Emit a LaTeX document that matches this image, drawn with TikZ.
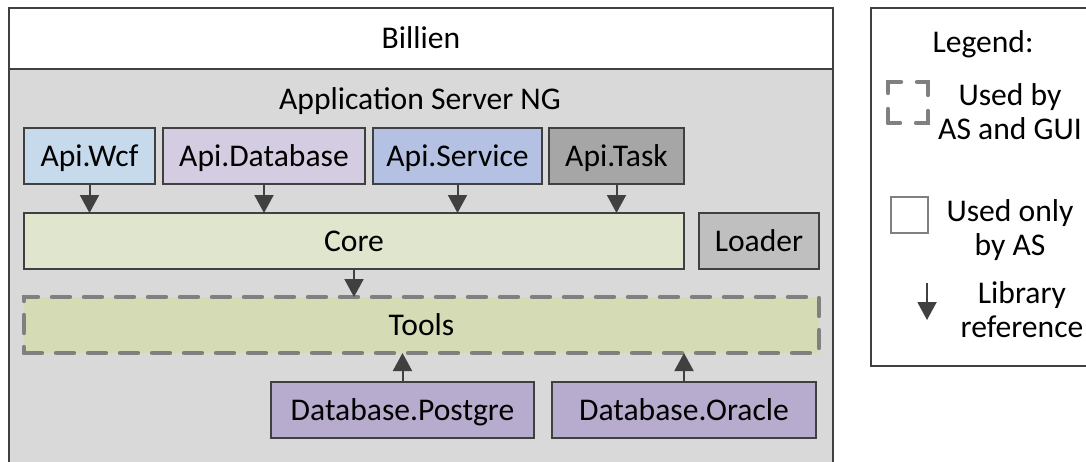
\documentclass[tikz,border=0pt]{standalone}
\usepackage{fontspec}
\setmainfont{Carlito}
\usetikzlibrary{arrows.meta}

\definecolor{lineDark}{RGB}{64,64,64}
\definecolor{dashGray}{RGB}{128,128,128}
\definecolor{bodyGray}{RGB}{217,217,217}
\definecolor{wcfBlue}{RGB}{198,218,236}
\definecolor{dbLilac}{RGB}{212,204,224}
\definecolor{svcBlue}{RGB}{181,193,226}
\definecolor{taskGray}{RGB}{166,166,166}
\definecolor{coreGreen}{RGB}{224,229,206}
\definecolor{loaderGray}{RGB}{191,191,191}
\definecolor{toolsGreen}{RGB}{213,219,181}
\definecolor{dbPurple}{RGB}{183,172,205}

\tikzset{
  lib/.style={draw=lineDark, line width=1pt, inner sep=0pt, outer sep=0pt,
    minimum height=28pt, text height=10.2pt, text depth=0pt},
  shared/.style={lib, draw=dashGray, line width=2.2pt, line cap=round,
    dash pattern=on 9pt off 7pt},
  ref/.style={-{Triangle[length=9pt,width=9.5pt]}, draw=lineDark, line width=1pt},
  caption/.style={inner sep=0pt, text height=10.2pt, text depth=0pt},
  legtext/.style={inner sep=0pt, align=center}
}

\begin{document}
\begin{tikzpicture}[x=0.5pt,y=-0.5pt,font=\fontsize{15.8}{17}\selectfont]

\clip (0,0) rectangle (1086,461);

% outer container
\fill[bodyGray] (9,69) rectangle (833,480);
\draw[lineDark, line width=1pt] (9,480) -- (9,8) -- (833,8) -- (833,480);
\node[lib, fill=white, minimum width=412pt, minimum height=30.5pt] (billien) at (421,38.5) {Billien};
\node[caption] (asng) at (420,99) {Application Server NG};

% api layer
\node[lib, fill=wcfBlue,  minimum width=65.5pt]  (wcf)     at (89.5,156)  {Api.Wcf};
\node[lib, fill=dbLilac,  minimum width=101pt]   (apidb)   at (264,156)   {Api.Database};
\node[lib, fill=svcBlue,  minimum width=84.5pt]  (service) at (457.5,156) {Api.Service};
\node[lib, fill=taskGray, minimum width=67.5pt]  (task)    at (616.5,156) {Api.Task};

% core and loader
\node[lib, fill=coreGreen,  minimum width=330pt] (core)   at (354,241) {Core};
\node[lib, fill=loaderGray, minimum width=60pt]  (loader) at (759,241) {Loader};

% tools (shared with GUI)
\node[shared, fill=toolsGreen, minimum width=397.5pt] (tools) at (421.5,325) {Tools};

% database drivers
\node[lib, fill=dbPurple, minimum width=131.5pt] (postgre) at (402.5,410) {Database.Postgre};
\node[lib, fill=dbPurple, minimum width=132pt]   (oracle)  at (684,410)   {Database.Oracle};

% library references
\foreach \n in {wcf,apidb,service,task}
  \draw[ref] (\n.south) -- (\n.south |- core.north);
\draw[ref] (core.south) -- (core.south |- tools.north);
\draw[ref] (postgre.north) -- (postgre.north |- tools.south);
\draw[ref] (oracle.north) -- (oracle.north |- tools.south);

% legend
\draw[lineDark, line width=1pt] (871,8) rectangle (1100,366);
\node[caption] (legtitle) at (983,42.5) {Legend:};

\node[shared, fill=none, minimum width=20pt, minimum height=20.5pt,
  dash pattern=on 12pt off 8pt, dash phase=6pt] (iconshared) at (908,102.5) {};
\node[legtext] (txtshared) at (1010,112) {Used by\\AS and GUI};

\node[lib, draw=dashGray, line width=0.6pt, fill=white, minimum width=18.5pt,
  minimum height=18pt] (iconas) at (909.5,215) {};
\node[legtext] (txtas) at (1010,230) {Used only\\by AS};

\coordinate (reftop) at (927,283);
\coordinate (refbot) at (927,320);
\draw[ref] (reftop) -- (refbot);
\node[legtext] (txtref) at (1022,310) {Library\\reference};

\end{tikzpicture}
\end{document}
